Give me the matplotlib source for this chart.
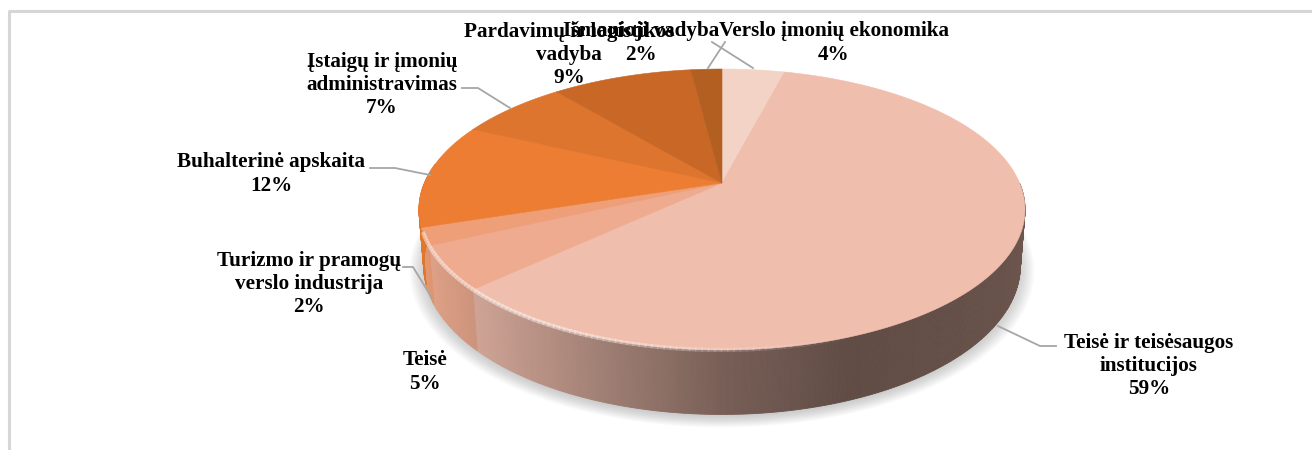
import numpy as np
import matplotlib
matplotlib.use('Agg')
import matplotlib.pyplot as plt
from matplotlib.patches import Polygon

# shares, clockwise from 12 o'clock
names = ['Verslo įmonių ekonomika', 'Teisė ir teisėsaugos\ninstitucijos', 'Teisė',
         'Turizmo ir pramogų\nverslo industrija', 'Buhalterinė apskaita',
         'Įstaigų ir įmonių\nadministravimas', 'Pardavimų ir logistikos\nvadyba', 'Išmanioji vadyba']
values = [4, 59, 5, 2, 12, 7, 9, 2]
colors = ['#f2d3c6', '#f0bead', '#eeab8f', '#ef9f78', '#ec7d32', '#dd752e', '#c96726', '#b45f22']

label_x = [834, 1149, 425, 309, 271, 382, 569, 641]
label_y = [43, 366, 372, 284, 174, 85, 55, 43]
leaders = [[(712, 42), (753, 68)],
           [(1056, 346), (1040, 346), (998, 326)],
           None,
           [(403, 267), (413, 267), (432, 298)],
           [(370, 168), (395, 168), (430, 175)],
           [(462, 88), (478, 88), (510, 108)],
           None,
           [(725, 42), (708, 68)]]

# shading of the side wall against screen x
shade_x = [420, 480, 600, 720, 850, 1000, 1025]
shade_f = [0.95, 0.85, 0.67, 0.5, 0.4, 0.43, 0.45]

cx, cy = 722, 183
R, H, k = 297.6, 135.5, 0.1886
D = 55


def top_pts(deg, scale=1.0):
    t = np.radians(deg)
    u, v = np.sin(t) * scale, np.cos(t) * scale
    w = 1 + k * v
    return cx + R * u / w, cy - H * v / w


def bottom_pts(deg, scale=0.985):
    t = np.radians(deg)
    u, v = np.sin(t) * scale, np.cos(t) * scale
    w = 1 + k * v
    return cx + R * u / w, cy - H * v / w + D / w


fig = plt.figure(figsize=(13.12, 4.5), dpi=100)
ax = fig.add_axes([0, 0, 1, 1])
ax.set_xlim(0, 1312)
ax.set_ylim(450, 0)
ax.axis('off')

# frame
ax.plot([8.5, 8.5, 1312], [450, 11, 11], color='#d6d6d6', lw=2.2, zorder=1)

# soft shadow
a = np.linspace(0, 360, 361)
for s in np.linspace(1.03, 0.98, 14):
    x, y = bottom_pts(a, s)
    ax.add_patch(Polygon(np.c_[x, y + 3], closed=True, fc='#808080', ec='none', alpha=0.03, zorder=2))

edges = np.cumsum([0] + values) * 3.6

# side wall
for i, col in enumerate(colors):
    base = np.array(matplotlib.colors.to_rgb(col))
    steps = max(int(edges[i + 1] - edges[i]) * 2, 2)
    ang = np.linspace(edges[i], edges[i + 1], steps + 1)
    for a0, a1 in zip(ang[:-1], ang[1:]):
        if not (90 <= (a0 + a1) / 2 <= 270 + 8):
            continue
        xa, ya = top_pts(np.array([a0, a1]))
        xb, yb = bottom_pts(np.array([a1, a0]))
        f = np.interp((xa[0] + xa[1]) / 2, shade_x, shade_f)
        ax.add_patch(Polygon(np.c_[np.r_[xa, xb], np.r_[ya, yb]], closed=True,
                             fc=base * f, ec=base * f, lw=0.6, zorder=3))

# top face
for i, col in enumerate(colors):
    ang = np.linspace(edges[i], edges[i + 1], max(int(values[i]) * 4, 4))
    x, y = top_pts(ang)
    ax.add_patch(Polygon(np.c_[np.r_[cx, x], np.r_[cy, y]], closed=True,
                         fc=col, ec=col, lw=0.4, zorder=4))

# light bevel on the front rim
rim = np.arange(105, 250, 1.0)
for a0 in rim:
    x, y = top_pts(np.array([a0, a0 + 1.2]))
    alpha = np.interp(x[0], [420, 560, 860], [0.4, 0.4, 0.0])
    ax.plot(x, y, color='white', lw=3, alpha=alpha, solid_capstyle='butt', zorder=5)

# leader lines
for pts in leaders:
    if pts is not None:
        p = np.array(pts)
        ax.plot(p[:, 0], p[:, 1], color='#a6a6a6', lw=1.3, zorder=6)

# labels
for name, val, lx, ly in zip(names, values, label_x, label_y):
    ax.text(lx, ly, f'{name}\n{val}%', ha='center', va='center', ma='center',
            family='Liberation Serif', fontweight='bold', fontsize=15.2,
            linespacing=1.22, color='#000000', zorder=7)

fig.savefig('out.png', dpi=100)
